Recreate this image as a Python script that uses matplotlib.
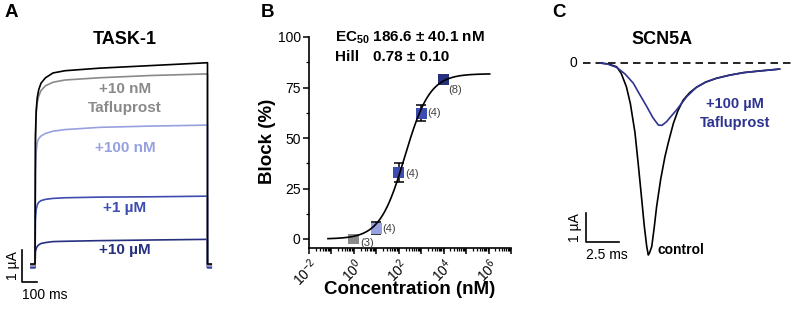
import numpy as np
import matplotlib
matplotlib.use("Agg")
import matplotlib.pyplot as plt
from matplotlib.ticker import LogLocator, NullFormatter, FixedLocator

plt.rcParams['font.family'] = ['Liberation Sans', 'DejaVu Sans']
plt.rcParams['mathtext.fontset'] = 'custom'
plt.rcParams['mathtext.rm'] = 'Liberation Sans'
plt.rcParams['mathtext.it'] = 'Liberation Sans:italic'
plt.rcParams['mathtext.bf'] = 'Liberation Sans:bold'

# ---------------- data ----------------
# Panel A: TASK-1 current traces (time ms, current uA)
a_time = [0, 3, 8, 15, 25, 40, 70, 120, 200, 430, 770, 1150]
a_black = [0, 4.0, 4.8, 5.2, 5.45, 5.65, 5.82, 5.97, 6.04, 6.12, 6.2, 6.29]
a_gray = [0, 3.8, 4.7, 5.05, 5.25, 5.42, 5.57, 5.68, 5.75, 5.82, 5.89, 5.94]
a_light = [0, 2.9, 3.5, 3.8, 3.92, 4.0, 4.08, 4.15, 4.2, 4.27, 4.31, 4.34]
a_mid = [0, 1.4, 1.7, 1.85, 1.93, 1.98, 2.02, 2.05, 2.07, 2.09, 2.1, 2.12]
a_dark = [0, 0.38, 0.48, 0.55, 0.6, 0.64, 0.67, 0.7, 0.71, 0.73, 0.75, 0.77]
a_baseline = [0.0, -0.03, -0.06, -0.09, -0.12]
a_labels = ["+10 nM", "Tafluprost", "+100 nM", "+1 µM", "+10 µM"]

# Panel B: concentration-response
b_conc = [1, 10, 100, 1000, 10000]
b_block = [0, 5.4, 32.7, 62.3, 78.8]
b_err = [0.5, 2.9, 4.7, 4.0, 1.5]
b_n = ["(3)", "(4)", "(4)", "(4)", "(8)"]
b_ec50 = 186.6
b_hill = 0.78
b_max = 81.8

# Panel C: SCN5A traces (time ms, current uA)
c_ctrl_t = [0, 0.6, 1.26, 1.6, 2.0, 2.3, 2.65, 2.9, 3.16, 3.35, 3.54, 3.66, 3.75,
            3.92, 4.1, 4.29, 4.6, 4.92, 5.2, 5.56, 5.9, 6.3, 6.8, 7.3, 8.0, 8.8,
            9.8, 10.9, 12.2, 13.6]
c_ctrl_i = [0, -0.03, -0.13, -0.35, -0.82, -1.4, -2.4, -3.5, -4.7, -5.6, -6.33, -6.62,
            -6.55, -6.33, -5.7, -4.95, -4.0, -3.23, -2.7, -2.08, -1.65, -1.28, -1.02,
            -0.84, -0.66, -0.53, -0.42, -0.33, -0.27, -0.21]
c_drug_t = [0, 0.6, 1.26, 1.9, 2.53, 3.0, 3.54, 4.0, 4.42, 4.7, 5.05, 5.4, 5.8, 6.2,
            6.57, 7.3, 8.0, 8.8, 9.8, 10.9, 12.2, 13.6]
c_drug_i = [0, -0.04, -0.15, -0.38, -0.70, -1.08, -1.5, -1.88, -2.14, -2.15, -2.02,
            -1.83, -1.62, -1.38, -1.16, -0.84, -0.66, -0.53, -0.42, -0.33, -0.27, -0.21]

# ---------------- figure ----------------
W, H = 796, 312
fig = plt.figure(figsize=(W / 100, H / 100), dpi=100)


def px_axes(left, top, width, height):
    return fig.add_axes([left / W, 1 - (top + height) / H, width / W, height / H])


BLACK = "#000000"
GRAY = "#8a8a8a"
LIGHT = "#97a1e0"
MID = "#3d4cb0"
DARK = "#27307f"
NAVY = "#2e3390"

# ---------- Panel A ----------
axA = px_axes(0, 25, 240, 280)
axA.set_xlim((0 - 35) / 0.15, (240 - 35) / 0.15)
axA.set_ylim((264 - 305) / 32, (264 - 25) / 32)
axA.axis("off")
dur = a_time[-1]
traces = [(a_dark, DARK), (a_mid, MID), (a_light, LIGHT), (a_gray, GRAY), (a_black, BLACK)]
bases = a_baseline[::-1]
for (vals, col), b0 in zip(traces, bases):
    t = [-27] + [0] + a_time[1:] + [dur, dur + 25]
    v = [b0] + [b0] + list(vals[1:]) + [b0, b0]
    axA.plot(t, v, color=col, lw=1.2, solid_joinstyle="round")
axA.text((125 - 35) / 0.15, (264 - 40) / 32, "TASK-1", ha="center", va="center",
         fontsize=13, fontweight="bold")
lab_cols = [GRAY, GRAY, LIGHT, MID, DARK]
lab_y = [89, 108, 148, 208, 250]
for s, c, yy in zip(a_labels, lab_cols, lab_y):
    axA.text((125 - 35) / 0.15, (264 - yy) / 32, s, ha="center", va="center",
             fontsize=11, fontweight="bold", color=c)
# scale bar A
sx = (22 - 35) / 0.15
y_lo = (264 - 282) / 32
axA.plot([sx, sx, sx + 100], [y_lo + 1, y_lo, y_lo], color="black", lw=1.2)
axA.text((13 - 35) / 0.15, y_lo + 0.5, "1 µA", rotation=90, ha="center", va="center",
         fontsize=10)
axA.text((45 - 35) / 0.15, (264 - 295) / 32, "100 ms", ha="center", va="center",
         fontsize=10)

# ---------- Panel B ----------
axB = px_axes(309, 37, 202, 211)
xs = np.logspace(np.log10(0.07), 6.05, 300)
ys = b_max * xs ** b_hill / (b_ec50 ** b_hill + xs ** b_hill)
axB.errorbar(b_conc, b_block, yerr=b_err, fmt="none", ecolor="black", elinewidth=1.1,
             capsize=3.5, capthick=1.1, zorder=2)
axB.scatter(b_conc, b_block, marker="s", s=62, c=[GRAY, LIGHT, MID, MID, DARK],
            zorder=3, linewidths=0)
axB.plot(xs, ys, color="black", lw=1.2, zorder=4)
n_offsets = [(4.5, -3), (4.5, -1), (4.5, -1), (4.5, 0), (3.5, -7)]
for x, y, s, off in zip(b_conc, b_block, b_n, n_offsets):
    axB.annotate(s, (x, y), xytext=off, textcoords="offset points", fontsize=8,
                 color="#404040", ha="left", va="center")
axB.set_xscale("log")
axB.set_xlim(1e-2, 1e7)
axB.set_ylim(-(248 - 239) / 2.02, 100)
axB.spines["top"].set_visible(False)
axB.spines["right"].set_visible(False)
for sp in ("left", "bottom"):
    axB.spines[sp].set_linewidth(1.2)
axB.set_yticks([0, 25, 50, 75, 100])
axB.yaxis.set_minor_locator(FixedLocator([12.5, 37.5, 62.5, 87.5]))
axB.xaxis.set_major_locator(FixedLocator([10.0 ** k for k in range(-2, 8)]))
axB.xaxis.set_minor_locator(LogLocator(base=10, subs=np.arange(2, 10), numticks=20))
axB.xaxis.set_minor_formatter(NullFormatter())
axB.set_xticklabels([r"$10^{%d}$" % k if k % 2 == 0 and k <= 6 else "" for k in range(-2, 8)])
axB.tick_params(axis="both", which="major", direction="out", length=4, width=1.1,
                labelsize=10, pad=2)
axB.tick_params(axis="both", which="minor", direction="out", length=2.2, width=0.9)
for lbl in axB.get_xticklabels():
    lbl.set_rotation(45)
    lbl.set_ha("right")
    lbl.set_va("top")
    lbl.set_rotation_mode("anchor")
axB.set_xlabel("Concentration (nM)", fontsize=13.5, fontweight="bold", va="center")
axB.xaxis.set_label_coords(0.5, -(290 - 248) / 211)
axB.set_ylabel("Block (%)", fontsize=13.5, fontweight="bold", va="center")
axB.yaxis.set_label_coords(-(309 - 268) / 202, (248 - 141) / 211)
fig.text(335 / W, 1 - 38 / H, r"EC$_{\mathbf{50}}$ 186.6 ± 40.1 nM", fontsize=11,
         fontweight="bold", ha="left", va="center")
fig.text(335 / W, 1 - 57 / H, "Hill", fontsize=11, fontweight="bold", ha="left", va="center")
fig.text(373 / W, 1 - 57 / H, "0.78 ± 0.10", fontsize=11, fontweight="bold", ha="left",
         va="center")

# ---------- Panel C ----------
axC = px_axes(560, 25, 236, 280)
axC.set_xlim((560 - 600) / 13.2, (796 - 600) / 13.2)
axC.set_ylim((63 - 305) / 29, (63 - 25) / 29)
axC.axis("off")
axC.plot([(583 - 600) / 13.2, (793 - 600) / 13.2], [0, 0], color="black", lw=1.2,
         dashes=(4.5, 3))
axC.plot(c_ctrl_t, c_ctrl_i, color="black", lw=1.2)
axC.plot(c_drug_t, c_drug_i, color=NAVY, lw=1.2)
axC.text((577 - 600) / 13.2, 0, "0", ha="right", va="center", fontsize=10)
axC.text((662 - 600) / 13.2, (63 - 40) / 29, "SCN5A", ha="center", va="center",
         fontsize=13, fontweight="bold")
cx = (586 - 600) / 13.2
cy = (63 - 242) / 29
axC.plot([cx, cx, cx + 2.5], [cy + 1, cy, cy], color="black", lw=1.2)
axC.text((575 - 600) / 13.2, cy + 0.5, "1 µA", rotation=90, ha="center", va="center",
         fontsize=10)
axC.text((607 - 600) / 13.2, (63 - 255) / 29, "2.5 ms", ha="center", va="center",
         fontsize=10)
axC.text((658 - 600) / 13.2, (63 - 250) / 29, "control", ha="left", va="center",
         fontsize=10, fontweight="bold")
axC.text((735 - 600) / 13.2, (63 - 104) / 29, "+100 µM", ha="center", va="center",
         fontsize=10.5, fontweight="bold", color=NAVY)
axC.text((735 - 600) / 13.2, (63 - 123) / 29, "Tafluprost", ha="center", va="center",
         fontsize=10.5, fontweight="bold", color=NAVY)

# panel letters
for s, x in (("A", 5), ("B", 261), ("C", 552)):
    fig.text(x / W, 1 - 4 / H, s, fontsize=13.5, fontweight="bold", ha="left", va="top")

fig.savefig("out.png", dpi=100)
